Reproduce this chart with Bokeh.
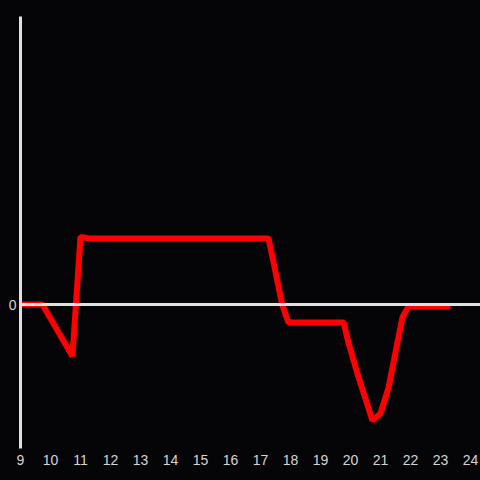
from bokeh.plotting import figure
from bokeh.models import Range1d, FixedTicker, Span
from bokeh.embed import file_html
from bokeh.resources import INLINE

hours = [8.9, 9.73, 10.73, 11.0, 11.27, 17.27, 17.73, 17.93, 19.77, 19.93,
         20.23, 20.73, 21.0, 21.27, 21.73, 21.93, 23.33]
values = [0.0, 0.0, -0.36, 0.47, 0.458, 0.458, -0.007, -0.125, -0.125, -0.264,
          -0.48, -0.805, -0.757, -0.576, -0.09, -0.014, -0.014]
x_ticks = list(range(9, 25))
y_ticks = [0]

BG = "#050407"
AXIS = "#e0e0e0"
TXT = "#d6d6d6"

p = figure(width=480, height=480, output_backend="svg", toolbar_location=None,
           x_range=Range1d(9, 24.333), y_range=Range1d(-1, 2),
           min_border_left=20, min_border_top=16, min_border_right=0, min_border_bottom=32)
p.background_fill_color = BG
p.border_fill_color = BG
p.outline_line_color = None
p.grid.visible = False

p.xaxis.ticker = FixedTicker(ticks=x_ticks)
p.xaxis.axis_line_color = None
p.xaxis.major_tick_line_color = None
p.xaxis.minor_tick_line_color = None
p.xaxis.major_tick_out = 0
p.xaxis.major_tick_in = 0
p.xaxis.major_label_standoff = 6
p.xaxis.major_label_text_color = TXT
p.xaxis.major_label_text_font = "Liberation Sans"
p.xaxis.major_label_text_font_size = "14px"

p.yaxis.ticker = FixedTicker(ticks=y_ticks)
p.yaxis.axis_line_color = AXIS
p.yaxis.axis_line_width = 3
p.yaxis.major_tick_line_color = None
p.yaxis.minor_tick_line_color = None
p.yaxis.major_tick_out = 0
p.yaxis.major_tick_in = 0
p.yaxis.major_label_standoff = 4
p.yaxis.major_label_text_color = TXT
p.yaxis.major_label_text_font = "Liberation Sans"
p.yaxis.major_label_text_font_size = "14px"

p.add_layout(Span(location=0, dimension="width", line_color=AXIS, line_width=3))

p.line(hours, values, line_color="#ff0000", line_width=6)

html = file_html(p, INLINE)
html = html.replace("</head>", "<style>html, body { background-color: %s; }</style></head>" % BG, 1)
open("out.html", "w").write(html)
